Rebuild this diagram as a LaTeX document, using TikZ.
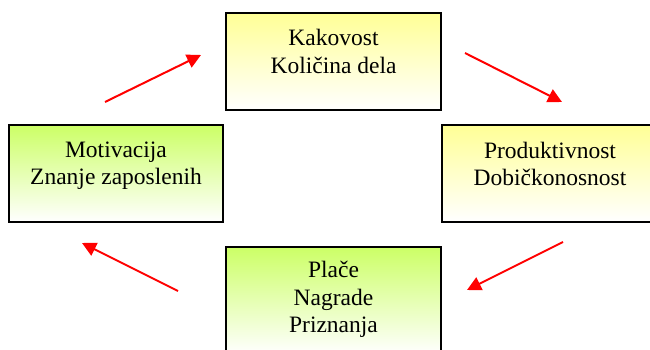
\documentclass[tikz,border=0pt]{standalone}
\usepackage{fontspec}
\setmainfont{Liberation Serif}
\usetikzlibrary{arrows.meta}
\definecolor{boxyellow}{RGB}{255,255,150}
\definecolor{boxgreen}{RGB}{204,255,102}
\definecolor{arrowred}{RGB}{255,0,0}
\tikzset{
  box/.style={draw=black, line width=2.4pt, line join=miter},
  yellowbox/.style={box, top color=boxyellow, bottom color=white},
  greenbox/.style={box, top color=boxgreen, bottom color=white},
  boxtext/.style={anchor=north, inner sep=0pt, align=center,
    font=\fontsize{23.5}{27.5}\selectfont},
  flow/.style={draw=arrowred, line width=2pt,
    -{Triangle[length=14pt,width=14pt]}, shorten >=0pt}
}
\begin{document}
\begin{tikzpicture}[x=1pt,y=1pt]
\useasboundingbox (0,0) rectangle (650,350);
\clip (0,0) rectangle (650,350);
% boxes
\path[yellowbox] (226,337) rectangle (441,240);
\path[greenbox] (9,225) rectangle (223,128);
\path[yellowbox] (442,225) rectangle (662,128);
\path[greenbox] (226,103) rectangle (441,-4);
% texts
\node[boxtext] (top) at (333.5,320.5) {Kakovost\\Količina dela};
\node[boxtext] (left) at (116,208.5) {Motivacija\\Znanje zaposlenih};
\node[boxtext] (right) at (550,208.5) {Produktivnost\\Dobičkonosnost};
\node[boxtext] (bottom) at (333.5,89) {Plače\\Nagrade\\Priznanja};
% arrow end points
\coordinate (a1s) at (105,248);
\coordinate (a1e) at (201,295);
\coordinate (a2s) at (465,297);
\coordinate (a2e) at (562,248);
\coordinate (a3s) at (563,108);
\coordinate (a3e) at (467,60);
\coordinate (a4s) at (178,59);
\coordinate (a4e) at (82,107);
\draw[flow] (a1s) -- (a1e);
\draw[flow] (a2s) -- (a2e);
\draw[flow] (a3s) -- (a3e);
\draw[flow] (a4s) -- (a4e);
\end{tikzpicture}
\end{document}
